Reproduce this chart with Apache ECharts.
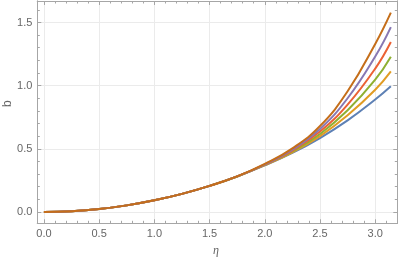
<!DOCTYPE html>
<html>
<head>
<meta charset="utf-8">
<script src="https://cdn.jsdelivr.net/npm/echarts@6/dist/echarts.min.js"></script>
<style>html,body{margin:0;padding:0;background:#fff}#c{width:399px;height:261px}</style>
</head>
<body>
<div id="c"></div>
<script>
const eta = [0, 0.25, 0.5, 0.75, 1, 1.25, 1.5, 1.75, 2, 2.25, 2.5, 2.75, 3, 3.1416];
const sBlue   = [0, 0.006, 0.023, 0.052, 0.092, 0.143, 0.206, 0.281, 0.368, 0.467, 0.585, 0.725, 0.890, 0.995];
const sOrange = [0, 0.006, 0.023, 0.052, 0.092, 0.143, 0.206, 0.281, 0.370, 0.472, 0.600, 0.765, 0.967, 1.113];
const sGreen  = [0, 0.006, 0.023, 0.052, 0.092, 0.143, 0.206, 0.281, 0.372, 0.479, 0.617, 0.805, 1.047, 1.229];
const sRed    = [0, 0.006, 0.023, 0.052, 0.092, 0.143, 0.206, 0.281, 0.374, 0.486, 0.636, 0.850, 1.135, 1.346];
const sPurple = [0, 0.006, 0.023, 0.052, 0.092, 0.143, 0.206, 0.281, 0.377, 0.494, 0.657, 0.900, 1.230, 1.463];
const sBrown  = [0, 0.006, 0.023, 0.052, 0.092, 0.143, 0.206, 0.281, 0.380, 0.503, 0.680, 0.955, 1.330, 1.578];

const xMajor = [0, 0.5, 1, 1.5, 2, 2.5, 3];
const xMinor = [0.1,0.2,0.3,0.4,0.6,0.7,0.8,0.9,1.1,1.2,1.3,1.4,1.6,1.7,1.8,1.9,2.1,2.2,2.3,2.4,2.6,2.7,2.8,2.9,3.1];
const yMajor = [0, 0.5, 1, 1.5];
const yMinor = [0.1,0.2,0.3,0.4,0.6,0.7,0.8,0.9,1.1,1.2,1.3,1.4,1.6];

const colors = ['#5E81B5', '#E19C24', '#8FB032', '#EB6235', '#8778B3', '#C56E1A'];
const allSeries = [sBlue, sOrange, sGreen, sRed, sPurple, sBrown];

const frameColor = '#a6a6a6';
const X_MIN = -0.06, X_MAX = 3.2, Y_MIN = -0.09, Y_MAX = 1.67;

function axis(dim, pos, vals, len, labels, split) {
  return {
    type: 'value', position: pos, min: dim === 'x' ? X_MIN : Y_MIN, max: dim === 'x' ? X_MAX : Y_MAX,
    axisLine: { show: true, onZero: false, lineStyle: { color: frameColor, width: 1 } },
    axisTick: { show: true, inside: true, length: len, customValues: vals, lineStyle: { color: frameColor, width: 1 } },
    axisLabel: labels ? { show: true, customValues: vals, formatter: v => Number(v).toFixed(1), color: '#666', fontSize: 11, fontFamily: 'Liberation Sans', margin: 5 } : { show: false },
    splitLine: split ? { show: true, lineStyle: { color: '#ebebeb', width: 1 } } : { show: false },
    minorTick: { show: false }
  };
}

const chart = echarts.init(document.getElementById('c'), null, { renderer: 'canvas' });
chart.setOption({
  animation: false,
  grid: { left: 37.3, right: 1.7, top: 1, bottom: 37.7, containLabel: false },
  xAxis: [
    axis('x', 'bottom', xMajor, 4, true, true),
    axis('x', 'bottom', xMinor, 2.5, false, false),
    axis('x', 'top', xMajor, 4, false, false),
    axis('x', 'top', xMinor, 2.5, false, false)
  ],
  yAxis: [
    axis('y', 'left', yMajor, 4, true, true),
    axis('y', 'left', yMinor, 2.5, false, false),
    axis('y', 'right', yMajor, 4, false, false),
    axis('y', 'right', yMinor, 2.5, false, false)
  ],
  series: allSeries.map((s, i) => ({
    type: 'line', xAxisIndex: 0, yAxisIndex: 0, showSymbol: false, smooth: 0.45,
    lineStyle: { color: colors[i], width: 2 }, itemStyle: { color: colors[i] },
    data: eta.map((x, j) => [x, s[j]])
  })),
  graphic: [
    { type: 'text', left: 213, top: 245, style: { text: 'η', font: 'italic 12px "Liberation Serif"', fill: '#666' } },
    { type: 'text', x: 2, y: 107, rotation: Math.PI / 2, style: { text: 'b', font: '12px "Liberation Sans"', fill: '#666' } }
  ]
});
</script>
</body>
</html>
